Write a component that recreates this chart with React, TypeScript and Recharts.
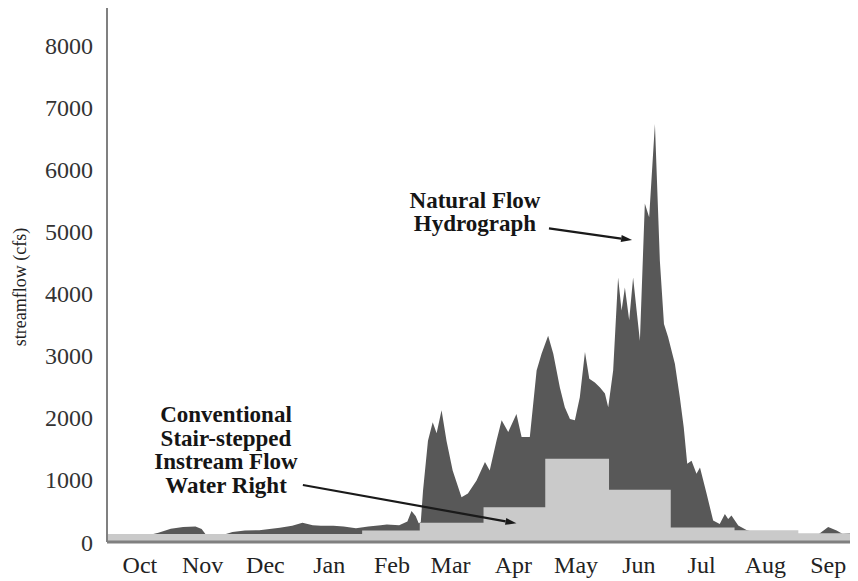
import { Area, ComposedChart, ReferenceLine, XAxis, YAxis } from 'recharts'

const months = ['Oct', 'Nov', 'Dec', 'Jan', 'Feb', 'Mar', 'Apr', 'May', 'Jun', 'Jul', 'Aug', 'Sep']
// day of the water year (Oct 1 = day 1) at the middle of each month
const monthMidDays = [16, 46.5, 77, 108, 138.5, 167, 197.5, 228, 258.5, 289, 320, 350.5]
const yTicks = [0, 1000, 2000, 3000, 4000, 5000, 6000, 7000, 8000]

// stair-stepped instream flow right, one level per month
const rightStartDays = [0, 32, 62, 93, 124, 152, 183, 213, 244, 274, 305, 336, 365]
const rightCfs = [130, 130, 130, 130, 185, 310, 560, 1340, 840, 235, 190, 140, 140]

// natural flow hydrograph
const flowDays = [
  0, 10, 18, 20, 25, 31, 37, 43, 46, 48, 52, 57, 61, 67, 74, 80, 84, 90, 95, 100,
  104, 110, 115, 121, 127, 133, 136, 142, 146, 148, 150, 151.5, 152.5, 153.6, 156, 158.3, 160.2, 162.6, 165, 168,
  172.3, 175.4, 179.6, 183.7, 186, 189.3, 191.8, 195, 199, 201.5, 205.5, 208.8, 211.2, 214.4, 216.9, 220.1, 222.5, 225, 227.4, 229.8,
  232.3, 234.4, 237.1, 239.6, 242, 243.6, 246, 248.4, 250.1, 251.7, 253.8, 255.7, 257.4, 259, 261.4, 263.5, 266.3, 268.7, 270.7, 272.7,
  276, 278.4, 280.3, 282, 284.1, 286.5, 288.2, 291.4, 294.6, 297.8, 300.3, 301.9, 303.5, 306.8, 310.8, 314, 325, 335, 346, 350.5,
  354.6, 357.6, 362, 365,
]
const flowCfs = [
  60, 65, 80, 110, 150, 215, 240, 250, 210, 120, 100, 120, 160, 185, 190, 215, 230, 260, 310, 270,
  260, 260, 250, 220, 250, 270, 280, 270, 330, 500, 420, 300, 320, 830, 1630, 1930, 1750, 2120, 1630, 1150,
  720, 780, 990, 1290, 1150, 1630, 1960, 1770, 2060, 1690, 1690, 2760, 3030, 3320, 3030, 2490, 2170, 1980, 1960, 2330,
  3060, 2630, 2570, 2490, 2390, 2170, 2760, 4260, 3730, 4100, 3570, 4260, 3730, 3240, 5450, 5230, 6730, 4530, 3510, 3300,
  2870, 2330, 1850, 1260, 1310, 1100, 1200, 780, 345, 290, 450, 370, 425, 265, 195, 160, 150, 120, 130, 240,
  185, 130, 150, 140,
]

const flowData = flowDays.map((day, i) => ({ day, cfs: flowCfs[i] }))
const rightData = rightStartDays.map((day, i) => ({ day, cfs: rightCfs[i] }))

const serif = '"Liberation Serif", "Times New Roman", serif'

function Arrow(props: any) {
  const { x1, y1, x2, y2 } = props
  const a = Math.atan2(y2 - y1, x2 - x1)
  const len = 11
  const w = 3.5
  const bx = x2 - len * Math.cos(a)
  const by = y2 - len * Math.sin(a)
  const pts = [
    `${x2},${y2}`,
    `${bx + w * Math.sin(a)},${by - w * Math.cos(a)}`,
    `${bx - w * Math.sin(a)},${by + w * Math.cos(a)}`,
  ].join(' ')
  return (
    <g>
      <line x1={x1} y1={y1} x2={bx} y2={by} stroke="#1a1a1a" strokeWidth={2.2} />
      <polygon points={pts} fill="#1a1a1a" />
    </g>
  )
}

function YLabel(props: any) {
  const { viewBox } = props
  const x = viewBox.x + 12
  const y = viewBox.y + viewBox.height / 2 + 12
  return (
    <text x={x} y={y} transform={`rotate(-90, ${x}, ${y})`} textAnchor="middle" dominantBaseline="central"
      fontFamily={serif} fontSize={18} fill="#222">
      streamflow (cfs)
    </text>
  )
}

export default function App() {
  return (
    <div style={{ position: 'relative', width: 850, height: 573 }}>
      <ComposedChart width={850} height={573} margin={{ top: 0, right: 0, bottom: 0, left: 0 }}>
        <XAxis
          type="number"
          dataKey="day"
          domain={[0, 365]}
          ticks={monthMidDays}
          tickFormatter={(v: number) => months[monthMidDays.indexOf(v)]}
          interval={0}
          height={39}
          tickLine={false}
          tickSize={0}
          tickMargin={14}
          axisLine={{ stroke: '#808080', strokeWidth: 3 }}
          tick={{ fill: '#222', fontSize: 24, fontFamily: serif }}
          allowDataOverflow
        />
        <YAxis
          type="number"
          domain={[0, 8600]}
          ticks={yTicks}
          width={99}
          tickLine={false}
          tickSize={0}
          tickMargin={14}
          axisLine={{ stroke: '#808080', strokeWidth: 2 }}
          tick={{ fill: '#333', fontSize: 24, fontFamily: serif }}
          label={<YLabel />}
        />
        <Area data={flowData} dataKey="cfs" type="linear" fill="#585858" fillOpacity={1} stroke="none"
          dot={false} activeDot={false} isAnimationActive={false} />
        <Area data={rightData} dataKey="cfs" type="stepAfter" fill="#cacaca" fillOpacity={1} stroke="none"
          dot={false} activeDot={false} isAnimationActive={false} />
        <ReferenceLine segment={[{ x: 95.2, y: 918 }, { x: 199, y: 300 }]} shape={<Arrow />} ifOverflow="visible" />
        <ReferenceLine segment={[{ x: 214.8, y: 5050 }, { x: 255.2, y: 4862 }]} shape={<Arrow />} ifOverflow="visible" />
      </ComposedChart>
      <svg width={850} height={573} style={{ position: 'absolute', left: 0, top: 0, pointerEvents: 'none' }}>
        <g fontFamily={serif} fontWeight="bold" fontSize={23} fill="#151515" textAnchor="middle">
          <text x={467} y={200}>Natural Flow</text>
          <text x={467} y={223}>Hydrograph</text>
          <text x={218} y={414}>Conventional</text>
          <text x={218} y={437.5}>Stair-stepped</text>
          <text x={218} y={461}>Instream Flow</text>
          <text x={218} y={484.5}>Water Right</text>
        </g>
      </svg>
    </div>
  )
}
